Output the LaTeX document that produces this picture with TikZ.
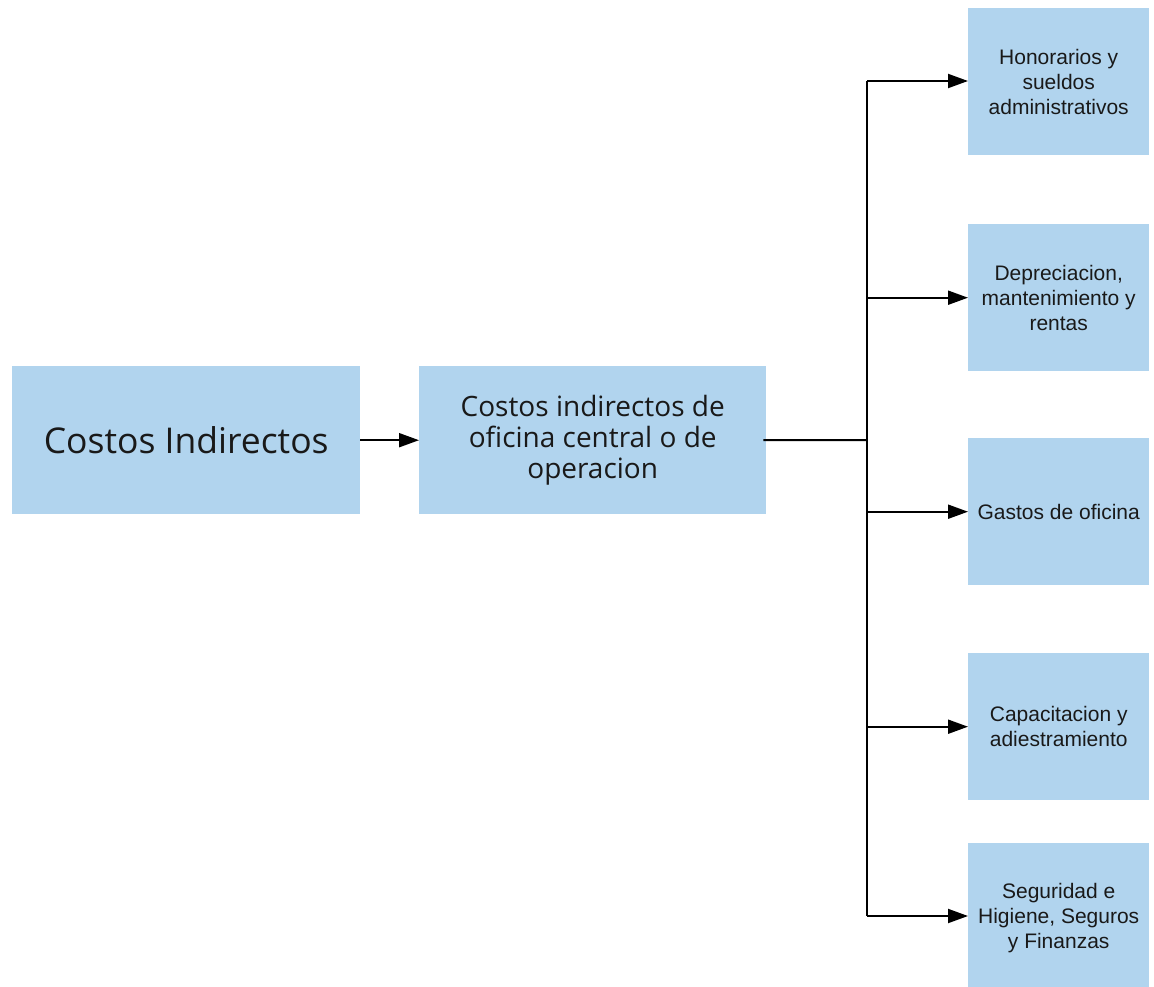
\documentclass[tikz,border=0pt]{standalone}
\usepackage{fontspec}
\setmainfont{Liberation Sans}
\newfontfamily\leftfont{Open Sans}
\usetikzlibrary{arrows.meta}
\definecolor{boxblue}{RGB}{177,212,238}
\begin{document}
\begin{tikzpicture}[x=1pt,y=-1pt,
  bigbox/.style={fill=boxblue,draw=none,minimum width=348pt,minimum height=148pt,align=center,inner sep=0pt,anchor=north west,text=black!90},
  smallbox/.style={fill=boxblue,draw=none,minimum width=181pt,minimum height=147pt,align=center,inner sep=0pt,anchor=north west,font=\fontsize{21}{25}\selectfont,text=black!90},
  conn/.style={line width=2pt,black},
  arr/.style={conn,-{Triangle[length=20pt,width=14pt]}}]
\useasboundingbox (0,0) rectangle (1154,987);
\node[bigbox,font=\leftfont\fontsize{35.5}{40}\selectfont] (a) at (12,366) {Costos Indirectos};
\node[bigbox,minimum width=347pt,font=\leftfont\fontsize{28}{31}\selectfont] (b) at (419,366) {Costos indirectos de\\oficina central o de\\operacion};
\node[smallbox] (r1) at (968,8) {Honorarios y\\sueldos\\administrativos};
\node[smallbox] (r2) at (968,224) {Depreciacion,\\mantenimiento y\\rentas};
\node[smallbox] (r3) at (968,438) {Gastos de oficina};
\node[smallbox] (r4) at (968,653) {Capacitacion y\\adiestramiento};
\node[smallbox,minimum height=150pt] (r5) at (968,843) {Seguridad e\\Higiene, Seguros\\y Finanzas};
\coordinate (t) at (867,440);
\coordinate (top) at (867,81);
\coordinate (bot) at (867,916);
\draw[arr] (a.east) -- (b.west);
\draw[conn] ([xshift=-3pt]b.east) -- (t);
\draw[conn] (top) -- (bot);
\draw[arr] (top) -- (top -| r1.west);
\foreach \n in {r2,r3,r4}{
  \draw[arr] (t |- \n.west) -- (\n.west);
}
\draw[arr] (bot) -- (bot -| r5.west);
\end{tikzpicture}
\end{document}
